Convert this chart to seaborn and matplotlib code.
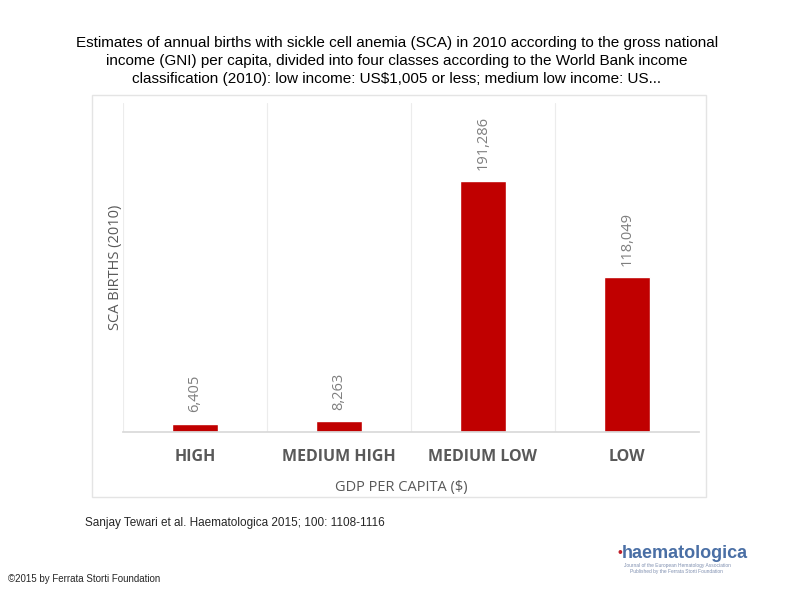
import matplotlib
matplotlib.use("Agg")
import matplotlib.pyplot as plt
import seaborn as sns
import pandas as pd
from matplotlib.patches import Rectangle

# data
income_class = ["HIGH", "MEDIUM HIGH", "MEDIUM LOW", "LOW"]
sca_births = [6405, 8263, 191286, 118049]

title = ("Estimates of annual births with sickle cell anemia (SCA) in 2010 according to the gross national\n"
         "income (GNI) per capita, divided into four classes according to the World Bank income\n"
         "classification (2010): low income: US$1,005 or less; medium low income: US...")

sns.set_theme(style="white")
plt.rcParams["font.family"] = ["Open Sans", "DejaVu Sans"]

df = pd.DataFrame({"cls": income_class, "births": sca_births})

fig = plt.figure(figsize=(7.94, 5.95), dpi=100)
ax = fig.add_axes([0.155, 0.274, 0.725, 0.553])

sns.barplot(data=df, x="cls", y="births", color="#c00000", saturation=1, width=0.32, ax=ax)
ax.bar_label(ax.containers[0], labels=[f"{v:,}" for v in sca_births], rotation=90,
             padding=8, color="#7f7f7f", fontsize=10.5)

ax.set_ylim(0, 250700)
ax.set_xlim(-0.5, 3.5)
ax.set_yticks([])
ax.set_xticks(range(4))
ax.set_xticklabels(income_class, fontweight="bold", color="#595959", fontsize=11.5)
ax.tick_params(axis="x", length=0, pad=12)
ax.set_xticks([-0.5, 0.5, 1.5, 2.5], minor=True)
ax.grid(axis="x", which="minor", color="#ececec", lw=0.8)
ax.grid(axis="x", which="major", visible=False)
ax.set_axisbelow(True)
for s in ["top", "right", "left"]:
    ax.spines[s].set_visible(False)
ax.spines["bottom"].set_color("#d9d9d9")
ax.set_xlabel("GDP PER CAPITA ($)", color="#595959", fontsize=10.5)
ax.xaxis.set_label_coords(0.483, -0.145)
ax.set_ylabel("SCA BIRTHS (2010)", color="#595959", fontsize=10.5, labelpad=0)

# frame around the chart image
fig.patches.append(Rectangle((92 / 794, 1 - 497 / 595), 614 / 794, 402 / 595,
                             transform=fig.transFigure, fill=False, ec="#e4e4e4", lw=1))

fig.text(0.5, 1 - 61 / 595, title, ha="center", va="center", fontsize=11,
         family="Liberation Sans", linespacing=1.38, color="black")
fig.text(85 / 794, 1 - 523 / 595, "Sanjay Tewari et al. Haematologica 2015; 100: 1108-1116",
         fontsize=8.5, family="Liberation Sans", va="center")
fig.text(8 / 794, 1 - 579 / 595, "\u00a92015 by Ferrata Storti Foundation",
         fontsize=7, family="Liberation Sans", va="center")

# journal logo, approximated with text
fig.text(618 / 794, 1 - 553 / 595, "\u2022", fontsize=10, color="#c0202a",
         family="Liberation Sans", va="center")
fig.text(622 / 794, 1 - 553 / 595, "haematologica", fontsize=13, color="#4a6fa5",
         family="Liberation Sans", fontweight="bold", va="center")
fig.text(624 / 794, 1 - 566 / 595, "Journal of the European Hematology Association", fontsize=3.5,
         color="#8090b0", family="Liberation Sans", va="center")
fig.text(630 / 794, 1 - 572 / 595, "Published by the Ferrata Storti Foundation", fontsize=3.5,
         color="#8090b0", family="Liberation Sans", va="center")

fig.savefig("out.png", dpi=100)
